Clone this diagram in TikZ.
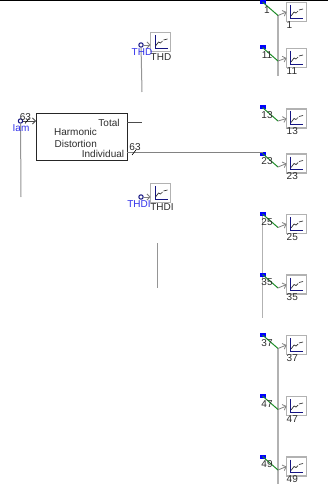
\documentclass[tikz,border=0pt]{standalone}
\usepackage{fontspec}
\setmainfont{Liberation Sans}
\usetikzlibrary{arrows.meta}
\definecolor{wiregray}{RGB}{178,178,178}
\definecolor{pin}{RGB}{130,130,130}
\definecolor{sig}{RGB}{30,140,40}
\definecolor{lbl}{RGB}{45,45,45}
\definecolor{bluelbl}{RGB}{50,50,235}
\definecolor{plot}{RGB}{20,20,130}
\tikzset{
  x=1pt,y=-1pt,
  wire/.style={draw=wiregray,line width=1.5pt},
  thin wire/.style={draw=pin!85!white,line width=1pt},
  feed/.style={draw=pin,line width=.8pt,-{Straight Barb[length=3pt,width=6pt]}},
  scopebox/.style={draw=wiregray,line width=1.1pt,fill=white,minimum width=20pt,minimum height=19pt,inner sep=0pt,outer sep=0pt},
  txt/.style={font=\fontsize{10}{10}\selectfont,text=lbl,inner sep=0pt},
  bluetxt/.style={font=\fontsize{10}{10}\selectfont,text=bluelbl,inner sep=0pt},
  bluetag/.style={fill=blue,draw=none,minimum width=6pt,minimum height=4pt,inner sep=0pt},
  ring/.style={circle,draw=plot,line width=1pt,minimum size=4.4pt,inner sep=0pt},
  blockbox/.style={draw=black!85,line width=1pt,fill=white,minimum width=91pt,minimum height=46pt,inner sep=0pt,outer sep=0pt}
}
\newcommand{\scoperow}[6]{% name, label, tagx, tagy, elbowx, scopey
  \node[bluetag] (t#1) at (#3,#4) {};
  \coordinate (e#1) at (#5,#4+13.5);
  \node[scopebox] (s#1) at (296.5,#6) {};
  \draw[plot,line width=.9pt] (290.5,#6-7) -- (290.5,#6+6) -- (303,#6+6);
  \draw[black!80,line width=.7pt] (291,#6+4) -- (294,#6) -- (296,#6+1) -- (298,#6-1);
  \draw[black!80,line width=.7pt] (299,#6-2) -- (303,#6-3);
  \draw[sig,line width=1pt] (t#1.center) -- (e#1);
  \draw[feed] (e#1) -- (s#1.west);
  \node[txt] (a#1) at (#3+4.5,#4+8) {#2};
  \node[txt,anchor=west] (b#1) at (286.5,#6+12.8) {#2};
}
\newcommand{\miniplot}[2]{% x, y of scope centre
  \draw[plot,line width=.9pt] (#1-5.5,#2-7) -- (#1-5.5,#2+6) -- (#1+7,#2+6);
  \draw[black!80,line width=.7pt] (#1-5,#2+4) -- (#1-2,#2) -- (#1,#2+1) -- (#1+2,#2-1);
  \draw[black!80,line width=.7pt] (#1+3,#2-2) -- (#1+7,#2-3);
}
\begin{document}
\begin{tikzpicture}
\useasboundingbox (0,0) rectangle (328,484);
\fill[white] (0,0) rectangle (328,484);
\coordinate (topL) at (0,.5);
\coordinate (topR) at (328,.5);
\draw[black,line width=1.2pt] (topL) -- (topR);
% vertical wires
\coordinate (w1a) at (278,15.5); \coordinate (w1b) at (278,76);
\coordinate (w2a) at (262.5,214); \coordinate (w2b) at (262.5,318);
\coordinate (w3a) at (278,349); \coordinate (w3b) at (278,484);
\draw[wire] (w1a) -- (w1b);
\draw[wire] (w2a) -- (w2b);
\draw[wire] (w3a) -- (w3b);
% scope rows
\scoperow{1}{1}{262.5}{2}{278}{12}
\scoperow{11}{11}{262.5}{47.5}{278}{58}
\scoperow{13}{13}{262.5}{107.5}{278}{118.5}
\scoperow{23}{23}{262.5}{153.5}{278}{163.5}
\scoperow{25}{25}{262.5}{214}{278}{224}
\scoperow{35}{35}{262.5}{274.5}{278}{284.5}
\scoperow{37}{37}{262.5}{335}{278}{345}
\scoperow{47}{47}{262.5}{396}{278}{406}
\scoperow{49}{49}{262.5}{456.5}{278}{466.5}
% block
\node[blockbox] (blk) at (81.5,137) {};
\node[txt] (tot) at (109,123) {Total};
\node[txt] (har) at (75.5,131.5) {Harmonic};
\node[txt] (dis) at (75.7,143.5) {Distortion};
\node[txt] (ind) at (103,153.5) {Individual};
% block wiring
\coordinate (totE) at (142,122);
\coordinate (indS) at (127,152.5);
\draw[draw=black!70,line width=1pt] (127,122) -- (totE);
\draw[draw=pin,line width=.9pt] (indS) -- (t23.center |- indS);
\draw[draw=black,line width=.6pt] (132,155) -- (136,150);
\node[txt] (n63b) at (135,147) {63};
% input
\node[ring] (lam) at (20.5,121) {};
\coordinate (lamE) at (21,197);
\draw[thin wire] (lam) -- (lamE);
\draw[draw=black!70,line width=.8pt,-{Straight Barb[length=3pt,width=6pt]}] (lam) -- (blk.west |- lam);
\draw[draw=black,line width=.6pt] (25,123.5) -- (29,118.5);
\node[txt] (n63a) at (25.5,117.5) {63};
\node[bluetxt] (lamt) at (21,128.5) {Iam};
% THD
\node[ring] (thdr) at (141,45) {};
\coordinate (thdE) at (142,92);
\node[scopebox] (thds) at (160.5,42) {};
\draw[thin wire] (thdr) -- (thdE);
\draw[feed] (thdr) -- (thds.west |- thdr);
\miniplot{160.5}{42}
\node[bluetxt] (thdb) at (142,52.5) {THD};
\node[txt] (thdl) at (161,57) {THD};
% THDI
\node[ring] (thdir) at (141,197) {};
\node[scopebox] (thdis) at (160.5,193) {};
\draw[feed] (thdir) -- (thdis.west |- thdir);
\miniplot{160.5}{193}
\node[bluetxt] (thdib) at (139,204.5) {THDI};
\node[txt] (thdil) at (162,207.5) {THDI};
% free line
\coordinate (fa) at (157,243);
\coordinate (fb) at (157,288);
\draw[thin wire] (fa) -- (fb);
\end{tikzpicture}
\end{document}
